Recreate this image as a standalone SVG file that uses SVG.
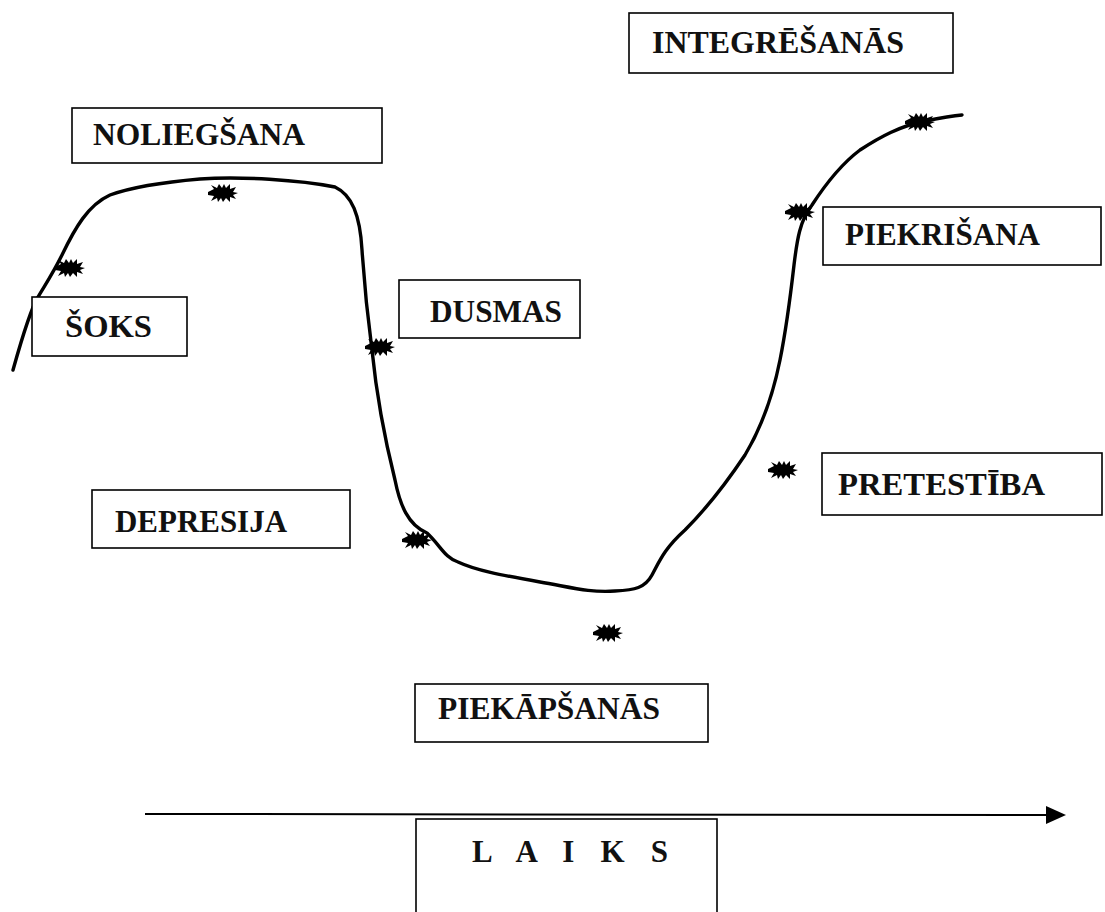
<svg xmlns="http://www.w3.org/2000/svg" width="1105" height="912" viewBox="0 0 1105 912">
<style>
.box{fill:#fff;stroke:#000;stroke-width:1.6}
.lbl{font-family:"Liberation Serif","Times New Roman",serif;font-weight:bold;font-size:31px;fill:#111}
.curve{fill:none;stroke:#000;stroke-width:3.4;stroke-linecap:round;stroke-linejoin:round}
.axis{fill:none;stroke:#000;stroke-width:2}
</style>
<defs>
<symbol id="star" viewBox="-15 -9 30 18" overflow="visible">
<polygon points="-15,-1 -9,-4 -12,-8 -6,-5 -4,-9 -1,-5 1,-9 3,-5 7,-9 7,-4 13,-6 10,-1 15,0 10,2 13,6 7,4 7,9 3,5 0,9 -2,5 -5,9 -6,5 -12,8 -9,3 -15,2" fill="#000"/>
<ellipse cx="0" cy="0" rx="9" ry="5" fill="#000"/>
</symbol>
<marker id="arr" markerWidth="20" markerHeight="18" refX="1" refY="9" orient="auto" markerUnits="userSpaceOnUse">
<polygon points="0,0 20,9 0,18" fill="#000"/>
</marker>
</defs>

<g id="connectors">
<path class="curve" d="M13,370 C20,345 30,310 38,297 C45,285 52,275 62,255 C75,228 88,205 110,195 C135,186 165,182 200,179 C240,176 300,180 335,187 C352,195 360,215 362,250 C364,280 368,320 372,350 C376,390 385,440 395,480 C400,505 408,525 427,533 C440,545 445,558 458,562 C475,570 500,575 540,582 C570,587 590,593 615,591 C635,590 645,588 652,575 C660,560 665,548 685,530 C705,510 725,485 745,455 C760,430 772,400 780,360 C786,330 790,300 794,265 C797,240 800,220 812,205 C825,185 840,165 860,150 C880,137 900,126 925,121 C940,118 950,116 962,115"/>
<line class="axis" x1="145" y1="814" x2="1047" y2="815" marker-end="url(#arr)"/>
</g>

<g id="stars">
<use href="#star" x="55" y="259" width="30" height="18"/>
<use href="#star" x="208" y="184" width="30" height="18"/>
<use href="#star" x="365" y="338" width="30" height="18"/>
<use href="#star" x="402" y="531" width="30" height="18"/>
<use href="#star" x="593" y="624" width="30" height="18"/>
<use href="#star" x="768" y="461" width="30" height="18"/>
<use href="#star" x="785" y="203" width="30" height="18"/>
<use href="#star" x="905" y="113" width="30" height="18"/>
</g>

<g id="integresanas"><rect class="box" x="629" y="13" width="324" height="60"/><text class="lbl" x="652" y="53" textLength="252" lengthAdjust="spacingAndGlyphs">INTEGRĒŠANĀS</text></g>
<g id="noliegsana"><rect class="box" x="72" y="108" width="310" height="55"/><text class="lbl" x="93" y="145" textLength="212" lengthAdjust="spacingAndGlyphs">NOLIEGŠANA</text></g>
<g id="soks"><rect class="box" x="32" y="297" width="155" height="59"/><text class="lbl" x="65" y="337" textLength="87" lengthAdjust="spacingAndGlyphs">ŠOKS</text></g>
<g id="dusmas"><rect class="box" x="399" y="280" width="181" height="58"/><text class="lbl" x="430" y="322" textLength="132" lengthAdjust="spacingAndGlyphs">DUSMAS</text></g>
<g id="piekrisana"><rect class="box" x="823" y="207" width="278" height="58"/><text class="lbl" x="845" y="245" textLength="195" lengthAdjust="spacingAndGlyphs">PIEKRIŠANA</text></g>
<g id="pretestiba"><rect class="box" x="822" y="453" width="280" height="62"/><text class="lbl" x="838" y="495" textLength="207" lengthAdjust="spacingAndGlyphs">PRETESTĪBA</text></g>
<g id="depresija"><rect class="box" x="92" y="490" width="258" height="58"/><text class="lbl" x="115" y="532" textLength="172" lengthAdjust="spacingAndGlyphs">DEPRESIJA</text></g>
<g id="piekapsanas"><rect class="box" x="415" y="684" width="293" height="58"/><text class="lbl" x="438" y="719" textLength="222" lengthAdjust="spacingAndGlyphs">PIEKĀPŠANĀS</text></g>
<g id="laiks"><rect class="box" x="416" y="819" width="301" height="100"/><text class="lbl" x="472" y="862" textLength="196" lengthAdjust="spacing">L A I K S</text></g>
</svg>
